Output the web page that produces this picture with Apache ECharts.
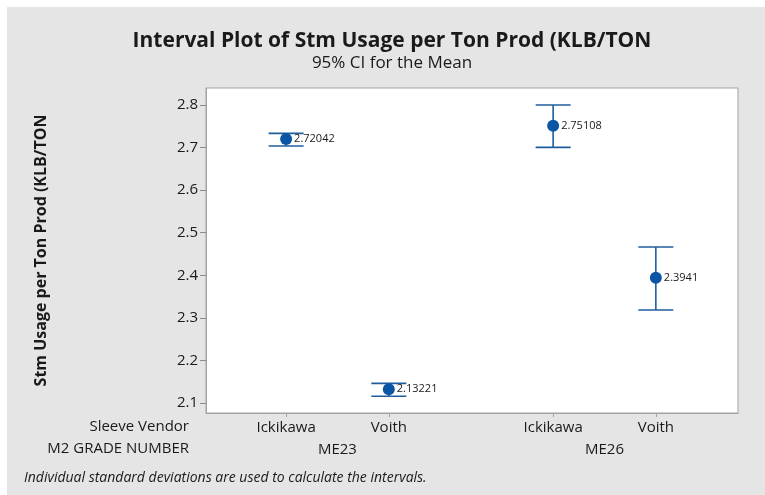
<!DOCTYPE html>
<html>
<head>
<meta charset="utf-8">
<script src="https://cdn.jsdelivr.net/npm/echarts@6/dist/echarts.min.js"></script>
<style>
html, body { margin: 0; padding: 0; background: #fff; }
#chart { width: 765px; height: 495px; }
</style>
</head>
<body>
<div id="chart"></div>
<script>
// data
var grades = ['ME23', 'ME26']
var vendors = ['Ickikawa', 'Voith']
var means = [2.72042, 2.13221, 2.75108, 2.3941]
var lower = [2.7037, 2.1157, 2.7006, 2.3184]
var upper = [2.7335, 2.1462, 2.8000, 2.4664]
var yTicks = [2.1, 2.2, 2.3, 2.4, 2.5, 2.6, 2.7, 2.8]

var FONT = 'Open Sans'
var BLUE = '#0a56a5'
var LINE = '#1f5e9c'

// x place of each group/vendor (group gap a bit wider than a vendor step)
var groupGap = 1.6
function xPos (g, v) { return 1 + g * (vendors.length - 1 + groupGap) + v }

var points = []
var vendorX = []
var vendorName = {}
grades.forEach(function (g, gi) {
  vendors.forEach(function (v, vi) {
    var k = gi * vendors.length + vi
    var x = xPos(gi, vi)
    vendorX.push(x)
    vendorName[x] = v
    points.push([x, means[k], lower[k], upper[k]])
  })
})
var groupX = []
var groupName = {}
grades.forEach(function (g, gi) {
  var x = (xPos(gi, 0) + xPos(gi, vendors.length - 1)) / 2
  groupX.push(x)
  groupName[x] = g
})

var xMin = 0.22
var xMax = 5.4

var chart = echarts.init(document.getElementById('chart'))
chart.setOption({
  backgroundColor: '#ffffff',
  animation: false,
  graphic: [
    { type: 'rect', left: 7, top: 7, shape: { width: 758, height: 488 }, style: { fill: '#e5e5e5' }, z: -10 },
    { type: 'text', right: 576, top: 419, style: { text: 'Sleeve Vendor', font: '15px "' + FONT + '"', fill: '#1a1a1a', textAlign: 'right' } },
    { type: 'text', right: 576, top: 441, style: { text: 'M2 GRADE NUMBER', font: '15px "' + FONT + '"', fill: '#1a1a1a', textAlign: 'right' } },
    { type: 'text', left: 24, top: 471, style: { text: 'Individual standard deviations are used to calculate the intervals.', font: 'italic 14px "' + FONT + '"', fill: '#1a1a1a' } }
  ],
  title: {
    text: 'Interval Plot of Stm Usage per Ton Prod (KLB/TON',
    subtext: '95% CI for the Mean',
    left: 387,
    top: 26,
    textAlign: 'center',
    itemGap: 3,
    textStyle: { fontFamily: FONT, fontSize: 21, fontWeight: 'bold', color: '#1a1a1a' },
    subtextStyle: { fontFamily: FONT, fontSize: 17, color: '#1a1a1a' }
  },
  grid: {
    left: 206, top: 88, right: 27, bottom: 82,
    show: true, backgroundColor: '#ffffff', borderColor: '#a3a3a3', borderWidth: 1
  },
  xAxis: [
    {
      type: 'value', min: xMin, max: xMax,
      splitLine: { show: false },
      axisLine: { show: true, lineStyle: { color: '#a3a3a3' } },
      axisTick: { show: true, customValues: vendorX, length: 4, lineStyle: { color: '#a3a3a3' } },
      axisLabel: {
        customValues: vendorX, margin: 7,
        formatter: function (v) { return vendorName[v] },
        fontFamily: FONT, fontSize: 15, color: '#1a1a1a'
      }
    },
    {
      type: 'value', min: xMin, max: xMax, position: 'bottom', offset: 22,
      splitLine: { show: false },
      axisLine: { show: false },
      axisTick: { show: false },
      axisLabel: {
        customValues: groupX, margin: 7,
        formatter: function (v) { return groupName[v] },
        fontFamily: FONT, fontSize: 15, color: '#1a1a1a'
      }
    }
  ],
  yAxis: {
    type: 'value', min: 2.0765, max: 2.84,
    name: 'Stm Usage per Ton Prod (KLB/TON',
    nameLocation: 'middle',
    nameGap: 157,
    nameTextStyle: { fontFamily: FONT, fontSize: 16, fontWeight: 'bold', color: '#1a1a1a' },
    splitLine: { show: false },
    axisLine: { show: true, lineStyle: { color: '#a3a3a3' } },
    axisTick: { show: true, customValues: yTicks, length: 6, lineStyle: { color: '#8a8a8a' } },
    axisLabel: {
      customValues: yTicks, margin: 8,
      formatter: function (v) { return v.toFixed(1) },
      fontFamily: FONT, fontSize: 15, color: '#1a1a1a'
    }
  },
  series: [
    {
      type: 'custom',
      xAxisIndex: 0,
      data: points,
      encode: { x: 0, y: [1, 2, 3] },
      renderItem: function (params, api) {
        var x = api.value(0)
        var lo = api.coord([x, api.value(2)])
        var hi = api.coord([x, api.value(3)])
        var half = 17.5
        var st = { stroke: LINE, lineWidth: 1.6 }
        return {
          type: 'group',
          children: [
            { type: 'line', shape: { x1: lo[0], y1: lo[1], x2: hi[0], y2: hi[1] }, style: st },
            { type: 'line', shape: { x1: hi[0] - half, y1: hi[1], x2: hi[0] + half, y2: hi[1] }, style: st },
            { type: 'line', shape: { x1: lo[0] - half, y1: lo[1], x2: lo[0] + half, y2: lo[1] }, style: st }
          ]
        }
      },
      z: 2
    },
    {
      type: 'scatter',
      xAxisIndex: 0,
      data: points.map(function (p) { return [p[0], p[1]] }),
      symbol: 'circle',
      symbolSize: 12,
      itemStyle: { color: BLUE, opacity: 1 },
      label: {
        show: true, position: 'right', distance: 2,
        formatter: function (p) { return String(p.value[1]) },
        fontFamily: FONT, fontSize: 11, color: '#1a1a1a'
      },
      z: 3
    }
  ]
})
</script>
</body>
</html>
